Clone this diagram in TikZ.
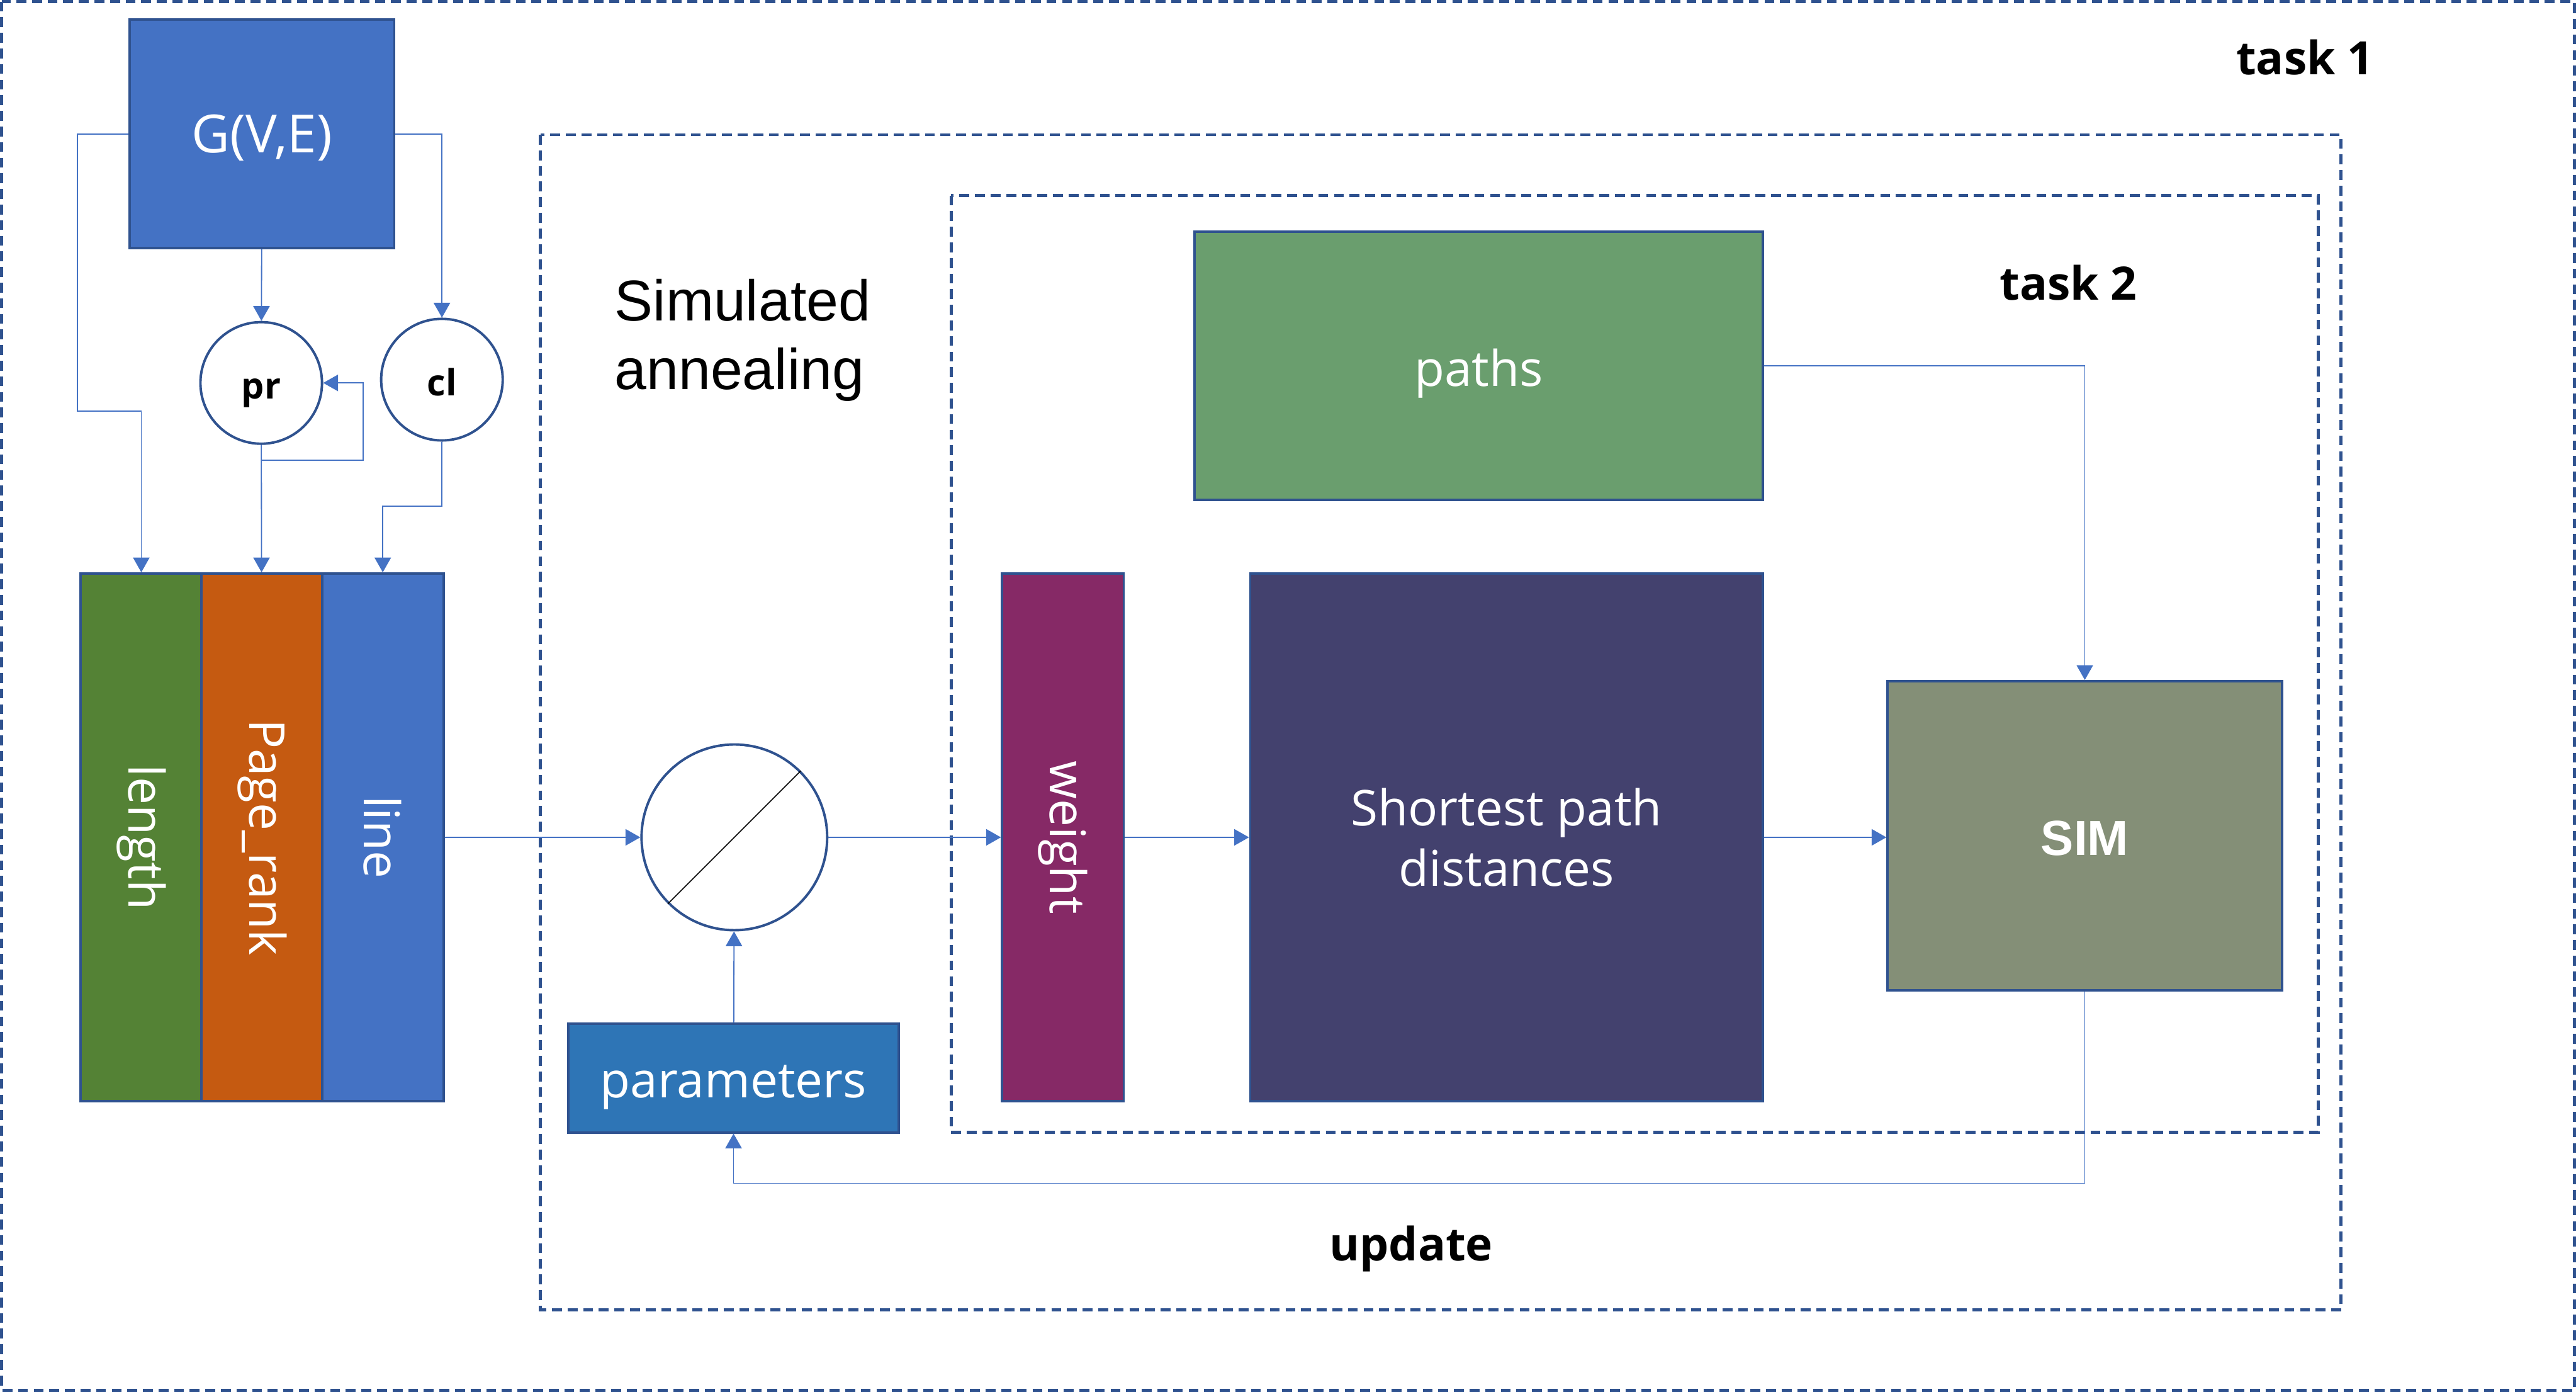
\documentclass[tikz,border=0pt]{standalone}
\usepackage{graphicx}
\usepackage{fontspec}
\setmainfont{Open Sans}
\newfontfamily\arialfont{Liberation Sans}
\usetikzlibrary{arrows.meta}
\definecolor{gblue}{HTML}{4472C4}
\definecolor{edge}{HTML}{2F528F}
\definecolor{lgreen}{HTML}{548235}
\definecolor{rust}{HTML}{C55A11}
\definecolor{pblue}{HTML}{2E75B6}
\definecolor{pgreen}{HTML}{6A9E6E}
\definecolor{wpurple}{HTML}{862966}
\definecolor{navy}{HTML}{43416E}
\definecolor{sage}{HTML}{848F77}
\tikzset{
	box/.style = {rectangle, draw=edge, line width=1.5pt, fill=#1,
		text=white, inner sep=0pt, font=\fontsize{30}{37}\selectfont},
	box/.default = gblue,
	lbl/.style = {text height=#1, text depth=0pt},
	lbl/.default = 25pt,
	bar/.style = {box=#1, minimum width=74pt, minimum height=321pt},
	circ/.style = {circle, draw=edge, line width=1.5pt, fill=white,
		inner sep=0pt, font=\bfseries\fontsize{22}{26}\selectfont},
	conn/.style = {draw=gblue, line width=0.7pt,
		-{Triangle[width=10pt,length=9pt]}},
	frame/.style = {draw=edge, line width=1.8pt, dash pattern=on 6pt off 3.5pt},
	tag/.style = {font=\bfseries\fontsize{28}{34}\selectfont}
}

\begin{document}
\begin{tikzpicture}[x=1pt, y=-1pt]
\useasboundingbox (0,0) rectangle (1568,847);
\draw[frame] (1,1) rectangle (1567,846);
\draw[frame] (329,82) rectangle (1425,797);
\draw[frame] (579,119) rectangle (1411,689);

\node[tag] (t1) at (1403,35) {task 1};
\node[tag] (t2) at (1259,172) {task 2};
\node[tag] (upd) at (859,760) {update};
\node[anchor=west, align=left, inner sep=0pt,
	font=\arialfont\fontsize{35}{42}\selectfont] (sa) at (374,207) {Simulated\\annealing};

\node[box, lbl=23pt, minimum width=161pt, minimum height=139pt,
	font=\fontsize{32}{38}\selectfont] (G) at (159.5,81.5) {G(V,E)};
\node[circ, lbl=19.5pt, minimum size=74pt] (pr) at (159,233) {pr};
\node[circ, lbl=19.5pt, minimum size=74pt] (cl) at (269,231) {cl};

\node[bar=lgreen] (len) at (86,509.5) {\rotatebox{-90}{length}};
\node[bar=rust] (rank) at (159.5,509.5) {\rotatebox{-90}{Page\_rank}};
\node[bar=gblue] (line) at (233,509.5) {\rotatebox{-90}{line}};

\node[circ, minimum size=113pt] (div) at (447,509.5) {};
\node[box=pblue, lbl=24pt, minimum width=201pt, minimum height=66pt] (param) at (446.5,656) {parameters};

\node[box=pgreen, lbl, minimum width=346pt, minimum height=163pt] (paths) at (900,222.5) {paths};
\node[bar=wpurple] (weight) at (647,509.5) {\rotatebox{-90}{weight}};
\node[box=navy, minimum width=312pt, minimum height=321pt, align=center] (sp) at (917,509.5) {Shortest path\\distances};
\node[box=sage, lbl=24pt, minimum width=240pt, minimum height=188pt,
	font=\arialfont\bfseries\fontsize{30}{36}\selectfont] (sim) at (1269,508.5) {SIM};

\draw[line width=0.6pt] (div.225) -- (div.45);

\draw[conn] (G) -- (pr);
\draw[conn] (G.east) -| (cl);
\draw[conn] (G.west) -- (47,81.5) -- (47,250) -| (len.north);
\draw[conn] (pr) -- (rank);
\draw[conn] (159,280) -| (221,233) -- (pr.east);
\draw[conn] (cl) -- (269,308) -| (line.north);
\draw[conn] (line.east) -- (div.west);
\draw[conn] (param) -- (div);
\draw[conn] (div.east) -- (weight.west);
\draw[conn] (weight.east) -- (sp.west);
\draw[conn] (sp.east) -- (sim.west |- sp.east);
\draw[conn] (paths.east) -| (sim.north);
\draw[conn] (sim.south) -- (1269,720) -| (param.south);
\end{tikzpicture}
\end{document}
